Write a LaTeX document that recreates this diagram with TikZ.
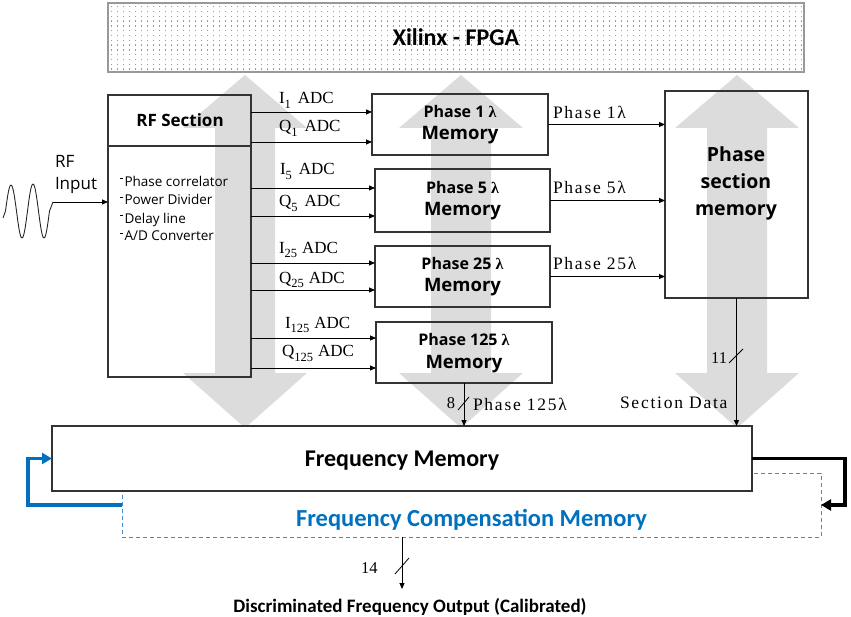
\documentclass[tikz,border=0pt]{standalone}
\usepackage{fontspec}
\setmainfont{Liberation Serif}
\newfontfamily\osans{Open Sans}
\newfontfamily\carl{Carlito}
\newfontfamily\ser{Liberation Serif}
\newfontfamily\lser[LetterSpace=10]{Liberation Serif}
\usetikzlibrary{arrows.meta,calc}
\definecolor{fblue}{HTML}{0070C0}
\definecolor{dblue}{HTML}{3C8DD8}
\definecolor{dotc}{HTML}{7F9ED8}
\definecolor{arrg}{HTML}{DCDCDC}
\newcommand{\fs}[1]{\fontsize{#1}{#1}\selectfont}
\newcommand{\sbs}[1]{\raisebox{-4.5pt}{\fs{12.5}#1}}
\newcommand{\bul}{\rule[7.5pt]{3pt}{0.8pt}\hspace{1.5pt}}
\newcommand{\lam}{{\ser\bfseries λ}}
\begin{document}
\begin{tikzpicture}[x=1pt,y=-1pt,
  box/.style={draw=black!80, line width=1.2pt, inner sep=0pt, outer sep=0pt},
  conn/.style={line width=0.9pt, -{Triangle[length=6pt,width=5pt]}},
  thick conn/.style={line width=3.5pt, -{Triangle[length=10pt,width=11pt]}},
  txt/.style={inner sep=0pt, outer sep=0pt},
  slash/.style={line width=0.8pt},
  adc/.style={txt, anchor=base west, font=\ser\fs{17}},
  plbl/.style={txt, anchor=base west, font=\lser\fs{17.5}}]
\useasboundingbox (0,0) rectangle (851,617);

% FPGA banner
\foreach \i in {0,...,115}{\foreach \j in {0,...,13}{\fill[dotc] ({110.5+\i*6},{6+\j*4.8}) rectangle ++(1.4,1.4);}}
\node[box, draw=black!40, line width=1.5pt, minimum width=696pt, minimum height=69pt] (fpga) at (456,37.5) {};
\node[txt, anchor=base] (fpgat) at (456,46) {\carl\bfseries\fs{24}Xilinx - FPGA};

% big gray double arrows
\foreach \cx in {245,461,737}{
  \fill[arrg] (\cx,75) -- ({\cx+62},128) -- ({\cx+30},128) -- ({\cx+30},373) -- ({\cx+62},373) -- (\cx,428) -- ({\cx-62},373) -- ({\cx-30},373) -- ({\cx-30},128) -- ({\cx-62},128) -- cycle;}

% frequency compensation memory and frequency memory
\node[box, draw=dblue, line width=1pt, dash pattern=on 4pt off 3pt, minimum width=699pt, minimum height=64pt] (fcm) at (471.5,505) {};
\node[box, fill=white, minimum width=700pt, minimum height=65pt] (fm) at (402,458.5) {};
\node[txt, anchor=base, text=fblue] (fcmt) at (471.5,526.7) {\carl\bfseries\fs{24.5}Frequency Compensation Memory};
\node[txt, anchor=base] (fmt) at (402,466) {\carl\bfseries\fs{24}Frequency Memory};

% RF section
\node[box, minimum width=143pt, minimum height=282pt] (rf) at (179.5,236) {};
\coordinate (div) at (0,146);
\draw[line width=1.2pt, draw=black!80] (rf.west |- div) -- (rf.east |- div);
\node[txt, anchor=base] (rft) at (180,127) {\osans\bfseries\fs{17}RF Section};
\node[txt, anchor=base west] (b1) at (120,186.7) {\osans\fs{13.5}\bul Phase correlator};
\node[txt, anchor=base west] (b2) at (120,205) {\osans\fs{13.5}\bul Power Divider};
\node[txt, anchor=base west] (b3) at (120,223.3) {\osans\fs{13.5}\bul Delay line};
\node[txt, anchor=base west] (b4) at (120,241) {\osans\fs{13.5}\bul A/D Converter};

% RF input
\node[txt, anchor=base west] (rfin1) at (55,168) {\osans\fs{17}RF};
\node[txt, anchor=base west] (rfin2) at (55,190) {\osans\fs{17}Input};
\coordinate (wend) at (53,202);
\draw[line width=0.9pt, black!85, line join=round] (3,218) -- (5.5,211) sin (11,185) cos (16.5,211) sin (22,238) cos (27.5,211) sin (33,184) cos (38.5,211) sin (44,238) cos (49.5,211) -- (wend);
\draw[conn] (wend) -- (rf.west |- wend);

% phase memories
\node[box, minimum width=176pt, minimum height=61pt] (p1) at (460,124.5) {};
\node[box, minimum width=175pt, minimum height=63pt] (p5) at (462.5,200.5) {};
\node[box, minimum width=175pt, minimum height=61pt] (p25) at (462.5,276.5) {};
\node[box, minimum width=176pt, minimum height=61pt] (p125) at (464,352.5) {};
\foreach \p/\n in {p1/1, p5/5, p25/25, p125/125}{
  \node[txt, anchor=base] (\p a) at ($(\p.center)+(0,-6.5)$) {\osans\bfseries\fs{16}Phase \n\ \lam};
  \node[txt, anchor=base] (\p b) at ($(\p.center)+(0,15.5)$) {\osans\bfseries\fs{18.5}Memory};
}

% phase section memory
\node[box, minimum width=143pt, minimum height=207pt] (psm) at (736.5,194.5) {};
\node[txt, anchor=base] (psm1) at (736,162) {\osans\bfseries\fs{19.5}Phase};
\node[txt, anchor=base] (psm2) at (736,189) {\osans\bfseries\fs{19.5}section};
\node[txt, anchor=base] (psm3) at (736,216) {\osans\bfseries\fs{19.5}memory};

% RF -> phase memories
\foreach \yy/\pp in {112/p1, 142/p1, 188/p5, 216/p5, 263/p25, 290/p25, 338/p125, 368/p125}{
  \coordinate (lv) at (0,\yy);
  \draw[conn] (rf.east |- lv) -- (\pp.west |- lv);
}
\node[adc] (li1) at (279,104) {I\sbs{1}\hspace{7pt}ADC};
\node[adc] (lq1) at (279,131.7) {Q\sbs{1}\hspace{7pt}ADC};
\node[adc] (li5) at (280,175) {I\sbs{5}\hspace{7pt}ADC};
\node[adc] (lq5) at (279,206.7) {Q\sbs{5}\hspace{7pt}ADC};
\node[adc] (li25) at (279,253.3) {I\sbs{25}\hspace{5pt}ADC};
\node[adc] (lq25) at (279,283.3) {Q\sbs{25}\hspace{5pt}ADC};
\node[adc] (li125) at (285,328.3) {I\sbs{125}\hspace{5pt}ADC};
\node[adc] (lq125) at (282,356.7) {Q\sbs{125}\hspace{5pt}ADC};

% phase memories -> phase section memory
\draw[conn] (p1.east) -- (p1.east -| psm.west);
\draw[conn] (p5.east) -- (p5.east -| psm.west);
\draw[conn] (p25.east) -- (p25.east -| psm.west);
\node[plbl] (lp1) at (553,118.3) {Phase 1λ};
\node[plbl] (lp5) at (553,193.3) {Phase 5λ};
\node[plbl] (lp25) at (553,270) {Phase 25λ};

% down to frequency memory
\draw[conn] (p125.south) -- (p125.south |- fm.north);
\draw[slash] (458,410) -- (469,397);
\node[txt, anchor=base east, font=\ser\fs{16.5}] (n8) at (455,408) {8};
\node[plbl] (lp125) at (473,410) {Phase 125λ};

\draw[conn] (psm.south) -- (psm.south |- fm.north);
\draw[slash] (729,363) -- (743,349);
\node[txt, anchor=base east, font=\ser\fs{16.5}] (n11) at (727,363) {11};
\node[plbl] (lsd) at (620,408) {Section Data};

% feedback loops
\draw[thick conn, fblue] (fcm.west) -- ++(-94,0) |- (fm.west);
\draw[thick conn] (fm.east) -- ++(93,0) |- (fcm.east);

% output
\coordinate (oend) at (402,589);
\draw[conn] (fcm.south -| oend) -- (oend);
\draw[slash] (395,574) -- (409,558);
\node[txt, anchor=base west, font=\ser\fs{16.5}] (n14) at (361,573) {14};
\node[txt, anchor=base] (outt) at (410,612) {\carl\bfseries\fs{19}Discriminated Frequency Output (Calibrated)};
\end{tikzpicture}
\end{document}
